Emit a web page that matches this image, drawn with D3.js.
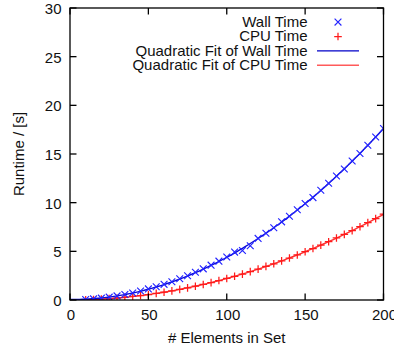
<!DOCTYPE html>
<html>
<head>
<meta charset="utf-8">
<script src="https://cdn.jsdelivr.net/npm/d3@7"></script>
<style>
  html, body { margin: 0; padding: 0; background: #fff; }
  svg { display: block; }
  text { font-family: "Liberation Sans", Arial, Helvetica, sans-serif; fill: #111; }
</style>
</head>
<body>
<svg id="chart" width="394" height="349"></svg>
<script>
// Set sizes (# elements) and measured runtimes in seconds
const setSizes = [10, 15, 20, 25, 30, 35, 40, 45, 50, 55, 60, 65, 70, 75, 80, 85, 90, 95, 100,
  105, 110, 115, 120, 125, 130, 135, 140, 145, 150, 155, 160, 165, 170, 175, 180, 185, 190, 195, 200];
const wallTime = [0.05, 0.11, 0.19, 0.29, 0.42, 0.56, 0.72, 0.92, 1.14, 1.36, 1.61, 1.88, 2.18, 2.49,
  2.85, 3.20, 3.58, 3.99, 4.42, 4.92, 5.08, 5.58, 6.33, 6.86, 7.42, 8.03, 8.61, 9.27, 9.92, 10.52,
  11.28, 12.00, 12.74, 13.46, 14.28, 15.05, 15.90, 16.75, 17.62];
const cpuTime = [0.02, 0.05, 0.09, 0.14, 0.20, 0.28, 0.36, 0.46, 0.56, 0.68, 0.80, 0.94, 1.09, 1.25,
  1.42, 1.60, 1.79, 2.00, 2.21, 2.44, 2.66, 2.92, 3.17, 3.45, 3.72, 4.02, 4.31, 4.63, 4.96, 5.29,
  5.64, 5.99, 6.37, 6.74, 7.13, 7.53, 7.95, 8.36, 8.81];
const xTicks = [0, 50, 100, 150, 200];
const yTicks = [0, 5, 10, 15, 20, 25, 30];
const legendLabels = ["Wall Time", "CPU Time", "Quadratic Fit of Wall Time", "Quadratic Fit of CPU Time"];

const colors = {
  wallPts: "#2323ff", cpuPts: "#ff1a1a",
  wallFit: "#0a0ad8", cpuFit: "#ff3030",
  wallKey: "#0000c8", cpuKey: "#ff5a5a"
};

const svg = d3.select("#chart");
const plot = { left: 70, right: 383.5, top: 8, bottom: 300 };

const x = d3.scaleLinear().domain([0, 200]).range([plot.left, plot.right]);
const y = d3.scaleLinear().domain([0, 30]).range([plot.bottom, plot.top]);

// Least-squares quadratic fit: t = a + b n + c n^2
function quadFit(xs, ys) {
  const S = [0, 0, 0, 0, 0], T = [0, 0, 0];
  xs.forEach((xv, i) => {
    let p = 1;
    for (let k = 0; k < 5; k++) { S[k] += p; if (k < 3) T[k] += p * ys[i]; p *= xv; }
  });
  const A = [[S[0], S[1], S[2], T[0]], [S[1], S[2], S[3], T[1]], [S[2], S[3], S[4], T[2]]];
  for (let i = 0; i < 3; i++) {
    for (let j = i + 1; j < 3; j++) {
      const f = A[j][i] / A[i][i];
      for (let k = i; k < 4; k++) A[j][k] -= f * A[i][k];
    }
  }
  const c = [0, 0, 0];
  for (let i = 2; i >= 0; i--) {
    let s = A[i][3];
    for (let k = i + 1; k < 3; k++) s -= A[i][k] * c[k];
    c[i] = s / A[i][i];
  }
  return n => c[0] + c[1] * n + c[2] * n * n;
}

const wallFit = quadFit(setSizes, wallTime);
const cpuFit = quadFit(setSizes, cpuTime);
const fitXs = d3.range(0, 200.01, 2);

svg.append("defs").append("clipPath").attr("id", "clip")
  .append("rect").attr("x", plot.left).attr("y", plot.top)
  .attr("width", plot.right - plot.left).attr("height", plot.bottom - plot.top);

const g = svg.append("g").attr("clip-path", "url(#clip)");
const line = d3.line().x(d => x(d[0])).y(d => y(d[1]));

function crossPath(s) { return `M${-s},${-s}L${s},${s}M${-s},${s}L${s},${-s}`; }
function plusPath(s) { return `M${-s},0L${s},0M0,${-s}L0,${s}`; }

// Red CPU series
g.append("path").datum(fitXs.map(n => [n, cpuFit(n)]))
  .attr("d", line).attr("fill", "none").attr("stroke", colors.cpuFit).attr("stroke-width", 1.4);
g.selectAll(".cpu").data(setSizes).join("path")
  .attr("transform", (n, i) => `translate(${x(n)},${y(cpuTime[i])})`)
  .attr("d", plusPath(3.8)).attr("stroke", colors.cpuPts).attr("stroke-width", 1.25).attr("fill", "none");

// Blue wall series
g.append("path").datum(fitXs.map(n => [n, wallFit(n)]))
  .attr("d", line).attr("fill", "none").attr("stroke", colors.wallFit).attr("stroke-width", 1.4);
g.selectAll(".wall").data(setSizes).join("path")
  .attr("transform", (n, i) => `translate(${x(n)},${y(wallTime[i])})`)
  .attr("d", crossPath(3.4)).attr("stroke", colors.wallPts).attr("stroke-width", 1.15).attr("fill", "none");

// Frame with inward ticks on all four sides
const tickLen = 6.5;
const axes = svg.append("g").attr("stroke", "#000").attr("stroke-width", 1.3);
axes.append("rect").attr("x", plot.left).attr("y", plot.top)
  .attr("width", plot.right - plot.left).attr("height", plot.bottom - plot.top).attr("fill", "none");
xTicks.forEach(t => {
  axes.append("line").attr("x1", x(t)).attr("x2", x(t)).attr("y1", plot.bottom).attr("y2", plot.bottom - tickLen);
  axes.append("line").attr("x1", x(t)).attr("x2", x(t)).attr("y1", plot.top).attr("y2", plot.top + tickLen);
});
yTicks.forEach(t => {
  axes.append("line").attr("x1", plot.left).attr("x2", plot.left + tickLen).attr("y1", y(t)).attr("y2", y(t));
  axes.append("line").attr("x1", plot.right).attr("x2", plot.right - tickLen).attr("y1", y(t)).attr("y2", y(t));
});

const fs = "15px";
svg.selectAll(".xlab").data(xTicks).join("text")
  .attr("x", d => x(d) + 1).attr("y", 320).attr("text-anchor", "middle").style("font-size", fs).text(d => d);
svg.selectAll(".ylab").data(yTicks).join("text")
  .attr("x", 61.5).attr("y", d => y(d) + 6).attr("text-anchor", "end").style("font-size", fs).text(d => d);

svg.append("text").attr("x", (plot.left + plot.right) / 2).attr("y", 342.5)
  .attr("text-anchor", "middle").style("font-size", fs).text("# Elements in Set");
svg.append("text").attr("transform", `translate(23.5,${(plot.top + plot.bottom) / 2}) rotate(-90)`)
  .attr("text-anchor", "middle").style("font-size", fs).text("Runtime / [s]");

// Legend
const legendY = [26.7, 41.1, 55.5, 69.9];
const key = svg.append("g");
legendLabels.forEach((lab, i) => {
  key.append("text").attr("x", 307.5).attr("y", legendY[i]).attr("text-anchor", "end")
    .style("font-size", fs).text(lab);
});
const sx = 338, mid = i => legendY[i] - 4.6;
key.append("path").attr("transform", `translate(${sx},${mid(0)})`).attr("d", crossPath(3.4))
  .attr("stroke", colors.wallPts).attr("stroke-width", 1.15);
key.append("path").attr("transform", `translate(${sx},${mid(1)})`).attr("d", plusPath(3.8))
  .attr("stroke", colors.cpuPts).attr("stroke-width", 1.25);
key.append("line").attr("x1", 317).attr("x2", 359).attr("y1", mid(2)).attr("y2", mid(2))
  .attr("stroke", colors.wallKey).attr("stroke-width", 1.4);
key.append("line").attr("x1", 317).attr("x2", 359).attr("y1", mid(3)).attr("y2", mid(3))
  .attr("stroke", colors.cpuKey).attr("stroke-width", 1.4);
</script>
</body>
</html>
